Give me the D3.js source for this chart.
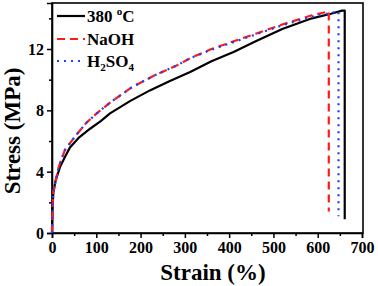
<!DOCTYPE html>
<html><head><meta charset="utf-8">
<script src="https://cdn.jsdelivr.net/npm/d3@7"></script>
<style>body{margin:0;background:#fff}svg{display:block}text{font-family:"Liberation Serif","Times New Roman",serif;font-weight:bold}</style>
</head><body><svg id="c" width="378" height="286"></svg>
<script>
const seriesNames = ["380 °C", "NaOH", "H2SO4"];
const black380 = [[0,0],[1,1.5],[3,2.6],[8,3.4],[18,4.3],[30,5.0],[41,5.6],[60,6.2],[86,6.8],[110,7.3],[131,7.8],[176,8.6],[221,9.3],[265,9.9],[312,10.5],[360,11.2],[410,11.8],[460,12.5],[520,13.3],[587,14.0],[630,14.3],[655,14.5],[661,14.5],[661,0.9]];
const naoh = [[0,0],[1,1.5],[3,2.7],[7,3.2],[15,4.3],[29,5.4],[52,6.3],[78,7.2],[101,7.8],[131,8.5],[180,9.5],[233,10.3],[280,10.9],[312,11.4],[360,12.0],[410,12.5],[460,13.0],[520,13.6],[587,14.2],[610,14.35],[625,14.45],[625,1.4]];
const h2so4 = [[0,0],[1,1.5],[3,2.7],[7,3.2],[15,4.3],[29,5.4],[52,6.3],[78,7.2],[101,7.8],[131,8.5],[180,9.5],[233,10.3],[280,10.9],[312,11.4],[360,11.95],[410,12.45],[460,12.95],[520,13.55],[587,14.1],[620,14.3],[647,14.45],[647,1.1]];
const xTicks = [0,100,200,300,400,500,600,700];
const yTicks = [0,4,8,12];

const svg = d3.select("#c");
const L=52, R=362, T=3, B=233;
const x = d3.scaleLinear().domain([0,700]).range([L,R]);
const y = d3.scaleLinear().domain([0,15]).range([B,T]);

svg.append("rect").attr("x",L).attr("y",T).attr("width",R-L+1).attr("height",B-T)
  .attr("fill","none").attr("stroke","#000").attr("stroke-width",1.6);

svg.append("g").attr("transform",`translate(0,${B})`)
  .call(d3.axisBottom(x).tickValues(xTicks).tickSize(5).tickPadding(4));
svg.append("g").attr("transform",`translate(0,${B})`)
  .call(d3.axisBottom(x).tickValues(d3.range(50,700,100)).tickSize(3).tickFormat(""))
  .call(g=>g.select(".domain").remove());
const yAxis = svg.append("g").attr("transform",`translate(${L},0)`)
  .call(d3.axisLeft(y).tickValues(yTicks).tickSize(5).tickPadding(3));
svg.append("g").attr("transform",`translate(${L},0)`)
  .call(d3.axisLeft(y).tickValues([2,6,10,14]).tickSize(3).tickFormat(""))
  .call(g=>g.select(".domain").remove());
svg.selectAll(".domain").attr("stroke-width",1.6);
svg.selectAll(".tick line").attr("stroke-width",1.5);
svg.selectAll(".tick text").style("font-size","16px").attr("fill","#000");
yAxis.selectAll(".tick text").attr("dy","0.35em");

const line = d3.line().x(d=>x(d[0])).y(d=>y(d[1]));
const styles = [
  {data:black380, color:"#000", dash:null},
  {data:naoh, color:"#ff1a1a", dash:"8,5"},
  {data:h2so4, color:"#1f3fff", dash:"2,5"}
];
styles.forEach(s=>{
  svg.append("path").datum(s.data).attr("d",line).attr("fill","none")
    .attr("stroke",s.color).attr("stroke-width",2.2).attr("stroke-dasharray",s.dash)
    .attr("stroke-linejoin","round");
});

const lg = svg.append("g");
const ly = [16,39,61];
styles.forEach((s,i)=>{
  lg.append("line").attr("x1",57).attr("x2",85).attr("y1",ly[i]).attr("y2",ly[i])
    .attr("stroke",s.color).attr("stroke-width",2.2).attr("stroke-dasharray",s.dash);
});
const t0 = lg.append("text").attr("x",87).attr("y",ly[0]+6).style("font-size","17px");
t0.append("tspan").text("380 ");
t0.append("tspan").text("o").attr("dy",-7).style("font-size","11px");
t0.append("tspan").text("C").attr("dy",7);
lg.append("text").attr("x",87).attr("y",ly[1]+6).style("font-size","17px").text(seriesNames[1]);
const t2 = lg.append("text").attr("x",87).attr("y",ly[2]+6).style("font-size","17px");
t2.append("tspan").text("H");
t2.append("tspan").text("2").attr("dy",4).style("font-size","11px");
t2.append("tspan").text("SO").attr("dy",-4);
t2.append("tspan").text("4").attr("dy",4).style("font-size","11px");

svg.append("text").attr("x",213).attr("y",280).attr("text-anchor","middle")
  .style("font-size","23px").text("Strain (%)");
svg.append("text").attr("transform","translate(20,131) rotate(-90)").attr("text-anchor","middle")
  .style("font-size","23px").text("Stress (MPa)");
</script></body></html>
